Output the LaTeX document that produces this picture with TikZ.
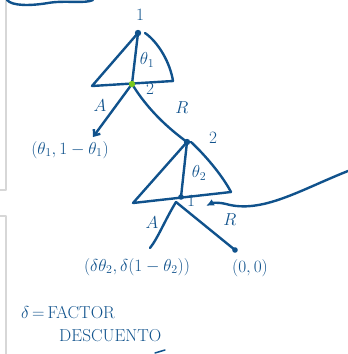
\documentclass[tikz,border=0pt]{standalone}
\usetikzlibrary{arrows.meta}
\definecolor{inkblue}{RGB}{16,82,140}
\definecolor{dotgreen}{RGB}{120,200,30}
\definecolor{framegray}{RGB}{215,215,215}

\begin{document}
\begin{tikzpicture}[x=1pt,y=-1pt,line cap=round,line join=round,
  ink/.style={draw=inkblue,line width=2.4pt},
  lbl/.style={text=inkblue,font=\LARGE,inner sep=1pt},
  pay/.style={text=inkblue,font=\LARGE,inner sep=1pt}]
  \useasboundingbox (0,0) rectangle (348,354);
  % frame marks on the left and the top
  \draw[framegray,line width=1.2pt] (6,0) -- (6,190) -- (0,190);
  \draw[framegray,line width=1.2pt] (0,216) -- (6,216) -- (6,354);
  \draw[ink] (7,0) .. controls (12,6) and (30,6) .. (48,3) .. controls (65,0) and (85,4) .. (93,0);
  \coordinate (R1) at (138,33);
  \coordinate (L1) at (92,86);
  \coordinate (E1) at (173,81);
  \coordinate (N2) at (132,84);
  \coordinate (P1) at (93,137);
  \coordinate (N3) at (187,142);
  \coordinate (L2) at (133,203);
  \coordinate (E2) at (231,192);
  \coordinate (N4) at (181,197);
  \coordinate (P2) at (150,248);
  \coordinate (P3) at (235,250);
  \coordinate (W) at (348,171);
  \coordinate (T) at (206,206);
  % first triangle
  \draw[ink] (R1) -- (L1) -- (E1);
  \draw[ink] (R1) ++(7,0) .. controls (158,42) and (170,62) .. (E1);
  \draw[ink] (R1) -- (N2);
  \draw[ink,-{Straight Barb[length=5pt,width=8pt]}] (N2) -- (P1);
  \draw[ink] (N2) .. controls (148,110) and (168,128) .. (N3);
  % second triangle
  \draw[ink] (N3) -- (L2) -- (E2);
  \draw[ink] (N3) ++(4,0) .. controls (205,155) and (222,175) .. (E2);
  \draw[ink] (N3) -- (N4);
  \draw[ink] (N4) ++(-5,5) .. controls (165,220) and (158,238) .. (P2);
  \draw[ink] (N4) ++(-5,5) -- (P3);
  \draw[ink,-{Latex[length=8pt,width=7pt]}] (W) .. controls (300,190) and (262,214) .. (226,204)
    .. controls (218,202) and (212,203) .. (T);
  \fill[inkblue] (R1) circle (3.2);
  \fill[inkblue] (N3) circle (3.2);
  \fill[inkblue] (N4) circle (2.8);
  \fill[inkblue] (P3) circle (2.8);
  \fill[dotgreen] (N2) circle (3.2);
  \draw[ink,line width=1.5pt] (155,353) -- (165,350);
  % labels
  \node[lbl] (n1) at (140,15) {$1$};
  \node[lbl] (t1) at (147,60) {$\theta_1$};
  \node[lbl] (n2) at (150,89) {$2$};
  \node[lbl] (a1) at (100,106) {$A$};
  \node[lbl] (r1) at (182,108) {$R$};
  \node[lbl] (n3) at (213,138) {$2$};
  \node[lbl] (t2) at (199,173) {$\theta_2$};
  \node[lbl] (n4) at (191,201) {$1$};
  \node[lbl] (a2) at (152,223) {$A$};
  \node[lbl] (r2) at (230,220) {$R$};
  \node[pay] (u1) at (70,150) {$(\theta_1,1-\theta_1)$};
  \node[pay] (u2) at (137,267) {$(\delta\theta_2,\delta(1-\theta_2))$};
  \node[pay] (u3) at (250,268) {$(0,0)$};
  \node[pay,anchor=west] (d1) at (20,313) {$\delta$\,=\,FACTOR};
  \node[pay,anchor=west] (d2) at (58,336) {DESCUENTO};
\end{tikzpicture}
\end{document}
